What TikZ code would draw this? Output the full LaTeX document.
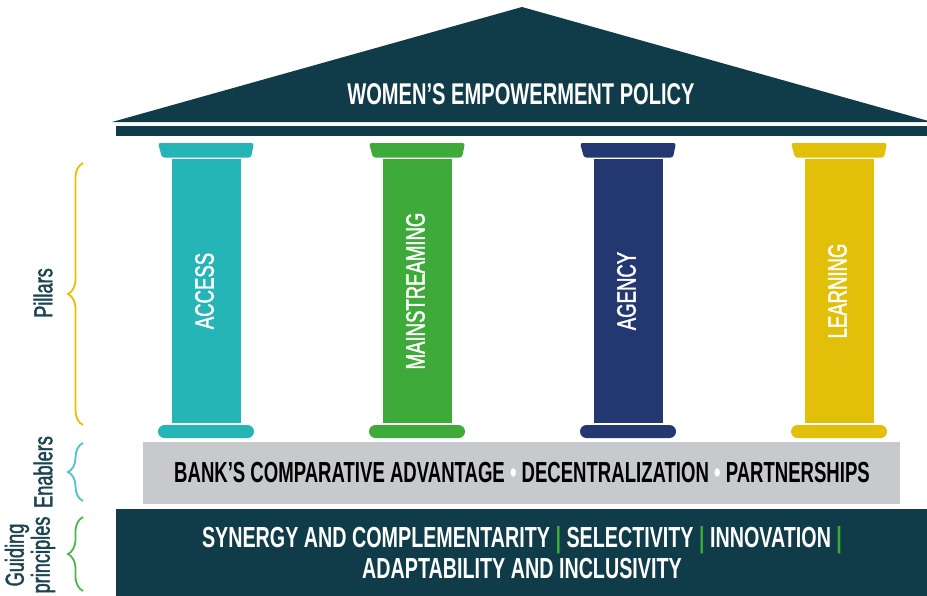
\documentclass[tikz,border=0pt]{standalone}
\usepackage{fontspec}
\setmainfont{Liberation Sans}
\newfontfamily\cnd[FakeStretch=0.68]{Liberation Sans}
\newfontfamily\cndtitle[FakeStretch=0.67]{Liberation Sans}
\newfontfamily\cndband[FakeStretch=0.64]{Liberation Sans}
\newfontfamily\cndmed[FakeStretch=0.70,FakeBold=1.5]{Liberation Sans}
\usetikzlibrary{decorations.pathreplacing}
\definecolor{roof}{HTML}{0F3C48}
\definecolor{pteal}{HTML}{26B5B6}
\definecolor{pgreen}{HTML}{3EAA3A}
\definecolor{pnavy}{HTML}{233870}
\definecolor{pyellow}{HTML}{E2BF08}
\definecolor{band}{HTML}{C7C9CD}
\definecolor{labtxt}{HTML}{1B4350}
\definecolor{brteal}{HTML}{4EC3CF}
\definecolor{brgreen}{HTML}{4CB748}
\definecolor{bryellow}{HTML}{E5C100}
\definecolor{sepgreen}{HTML}{3EAA3A}
\tikzset{
  pillartxt/.style={rotate=90, text=white, inner sep=0pt,
    font=\cndmed\fontsize{26.5}{26}\selectfont},
  headtxt/.style={text=white, inner sep=0pt, align=center,
    font=\cndtitle\bfseries\fontsize{30}{31}\selectfont},
  bandtxt/.style={inner sep=0pt, align=center,
    font=\cndband\bfseries\fontsize{29}{31}\selectfont},
  guidtxt/.style={inner sep=0pt, align=center, text=white,
    font=\cnd\bfseries\fontsize{29}{31}\selectfont},
  sidelab/.style={rotate=90, text=labtxt, inner sep=0pt, align=center,
    font=\cndmed\fontsize{26}{26}\selectfont},
  bracepath/.style={decorate, decoration={brace, amplitude=15pt}, line width=1.8pt},
  shaftbox/.style={minimum width=69pt, minimum height=264pt, inner sep=0pt},
  basebox/.style={minimum width=96pt, minimum height=13pt, inner sep=0pt, rounded corners=6.5pt},
}
\begin{document}
\begin{tikzpicture}[x=1pt,y=-1pt]
\clip (0,0) rectangle (927,595);
\fill[white] (0,0) rectangle (927,595);
% roof
\fill[roof] (112,122) -- (522,7) -- (932,122) -- cycle;
\node[headtxt] (title) at (521,94) {WOMEN’S EMPOWERMENT POLICY};
% beam
\fill[roof] (116,126) rectangle (927,136);
% pillars
\foreach \cx/\col/\lab/\i in {206/pteal/ACCESS/1, 417/pgreen/MAINSTREAMING/2, 628/pnavy/AGENCY/3, 839/pyellow/LEARNING/4}{
  \fill[\col, rounded corners=2.5pt] (\cx-48,143) -- (\cx+48,143) -- (\cx+45,157.5) -- (\cx-44,157.5) -- cycle;
  \node[shaftbox, fill=\col] (shaft\i) at (\cx+0.5,291) {};
  \node[basebox, fill=\col] (base\i) at (\cx,431.5) {};
  \node[pillartxt] (ptxt\i) at (\cx-1.5,291) {\lab};
}
% enablers band
\fill[band] (143,442) rectangle (900,504);
\node[bandtxt] (enab) at (522,473) {BANK’S COMPARATIVE ADVANTAGE {\color{white}\textbullet} DECENTRALIZATION {\color{white}\textbullet} PARTNERSHIPS};
% guiding principles band
\fill[roof] (116,509) rectangle (927,600);
\node[guidtxt] (guid) at (522,552.5) {SYNERGY AND COMPLEMENTARITY {\color{sepgreen}\textbar} SELECTIVITY {\color{sepgreen}\textbar} INNOVATION {\color{sepgreen}\textbar}\\[0pt] ADAPTABILITY AND INCLUSIVITY};
% side labels and braces
\node[sidelab] (lpil) at (43,293) {Pillars};
\draw[bracepath, bryellow] (83,425) -- (83,163);
\node[sidelab] (lenab) at (43,472) {Enablers};
\draw[bracepath, brteal] (83,501) -- (83,443);
\node[sidelab] (lguid) at (30,555) {Guiding\\principles};
\draw[bracepath, brgreen] (83,591) -- (83,517);
\end{tikzpicture}
\end{document}
